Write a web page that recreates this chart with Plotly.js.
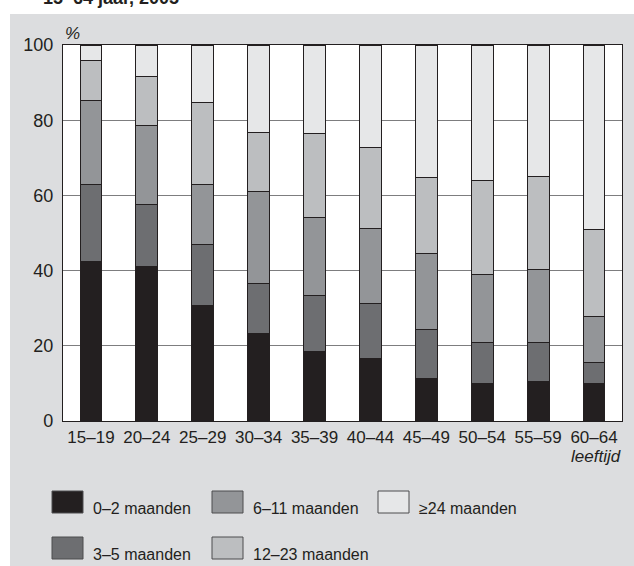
<!DOCTYPE html>
<html>
<head>
<meta charset="utf-8">
<script src="https://cdn.plot.ly/plotly-3.0.1.min.js"></script>
<style>html,body{margin:0;padding:0;background:#fff;}#chart{width:634px;height:566px;}</style>
</head>
<body>
<div id="chart"></div>
<script>
// ---- data ----
const ageGroups = ['15–19','20–24','25–29','30–34','35–39','40–44','45–49','50–54','55–59','60–64'];
const seriesNames = ['0–2 maanden','3–5 maanden','6–11 maanden','12–23 maanden','≥24 maanden'];
const m0_2    = [42.5, 41.0, 30.8, 23.3, 18.6, 16.6, 11.4, 10.1, 10.6, 10.1];
const m3_5    = [20.5, 16.6, 16.2, 13.4, 14.8, 14.6, 12.9, 10.9, 10.2,  5.4];
const m6_11   = [22.2, 21.1, 16.0, 24.4, 20.7, 19.9, 20.3, 18.0, 19.5, 12.4];
const m12_23  = [10.6, 12.9, 21.8, 15.7, 22.4, 21.6, 20.2, 24.9, 24.6, 23.1];
const m24plus = [ 4.2,  8.4, 15.2, 23.2, 23.5, 27.3, 35.2, 36.1, 35.1, 49.0];
const yTickVals = [0, 20, 40, 60, 80, 100];
const titleText = '15–64 jaar, 2005';
const xAxisLabel = 'leeftijd';
const yAxisLabel = '%';

// ---- style ----
const colors = ['#231f20', '#6d6e71', '#939598', '#bcbec0', '#e6e7e8'];
const bg = '#dcdddf';
const FONT = 'Liberation Sans, Arial, Helvetica, sans-serif';
const W = 634, H = 566;
const M = {l: 63, r: 12, t: 45, b: 145};
const PW = W - M.l - M.r, PH = H - M.t - M.b;
const xp = px => (px - M.l) / PW;
const yp = py => (H - M.b - py) / PH;

const seriesValues = [m0_2, m3_5, m6_11, m12_23, m24plus];
const traces = seriesValues.map((vals, i) => ({
  type: 'bar',
  name: seriesNames[i],
  x: ageGroups,
  y: vals,
  marker: {color: colors[i], line: {color: '#231f20', width: 1}},
  hoverinfo: 'x+y+name'
}));

const shapes = [
  // white margins outside the grey panel
  {type: 'rect', xref: 'paper', yref: 'paper', x0: xp(-5), x1: xp(W + 5), y0: yp(14), y1: yp(-5),
   fillcolor: '#ffffff', line: {width: 0}, layer: 'above'},
  {type: 'rect', xref: 'paper', yref: 'paper', x0: xp(-5), x1: xp(10), y0: yp(H + 5), y1: yp(-5),
   fillcolor: '#ffffff', line: {width: 0}, layer: 'above'}
];
const annotations = [
  {text: '<b>' + titleText + '</b>', xref: 'paper', yref: 'paper', x: xp(41), y: yp(10),
   xanchor: 'left', yanchor: 'bottom', showarrow: false, font: {family: FONT, size: 18, color: '#231f20'}},
  {text: '<i>' + yAxisLabel + '</i>', xref: 'paper', yref: 'paper', x: xp(63), y: yp(34),
   xanchor: 'left', yanchor: 'middle', showarrow: false, font: {family: FONT, size: 17, color: '#231f20'}},
  {text: '<i>' + xAxisLabel + '</i>', xref: 'paper', yref: 'paper', x: xp(623), y: yp(456),
   xanchor: 'right', yanchor: 'middle', showarrow: false, font: {family: FONT, size: 17, color: '#231f20'}}
];

// custom legend: 3 columns, filled column-first
const legCols = [52, 212, 378];
const legRows = [491, 537];
const swW = 31, swH = 22;
seriesNames.forEach((name, i) => {
  const c = Math.floor(i / 2), r = i % 2;
  const x0 = legCols[c], y0 = legRows[r];
  shapes.push({type: 'rect', xref: 'paper', yref: 'paper',
    x0: xp(x0), x1: xp(x0 + swW), y0: yp(y0 + swH), y1: yp(y0),
    fillcolor: colors[i], line: {color: '#4d4d4f', width: 1}, layer: 'above'});
  annotations.push({text: name, xref: 'paper', yref: 'paper', x: xp(x0 + swW + 8), y: yp(y0 + swH / 2 + 6),
    xanchor: 'left', yanchor: 'middle', showarrow: false, font: {family: FONT, size: 16, color: '#231f20'}});
});

const layout = {
  width: W, height: H,
  margin: M,
  paper_bgcolor: bg,
  plot_bgcolor: '#ffffff',
  barmode: 'stack',
  bargap: 0.61,
  showlegend: false,
  font: {family: FONT, size: 18, color: '#231f20'},
  xaxis: {
    type: 'category',
    showline: true, mirror: true, linecolor: '#231f20', linewidth: 1.2,
    ticks: '', showgrid: false, ticklabelstandoff: 0,
    tickfont: {family: FONT, size: 17, color: '#231f20'},
    fixedrange: true
  },
  yaxis: {
    range: [0, 100],
    tickvals: yTickVals,
    ticktext: yTickVals.map(String),
    showline: true, mirror: true, linecolor: '#231f20', linewidth: 1.2,
    ticks: '', showgrid: true, gridcolor: '#7d7d7f', gridwidth: 1.3, zeroline: false,
    ticklabelstandoff: 5,
    tickfont: {family: FONT, size: 18, color: '#231f20'},
    fixedrange: true
  },
  shapes: shapes,
  annotations: annotations
};

Plotly.newPlot('chart', traces, layout, {displayModeBar: false, staticPlot: true});
</script>
</body>
</html>
